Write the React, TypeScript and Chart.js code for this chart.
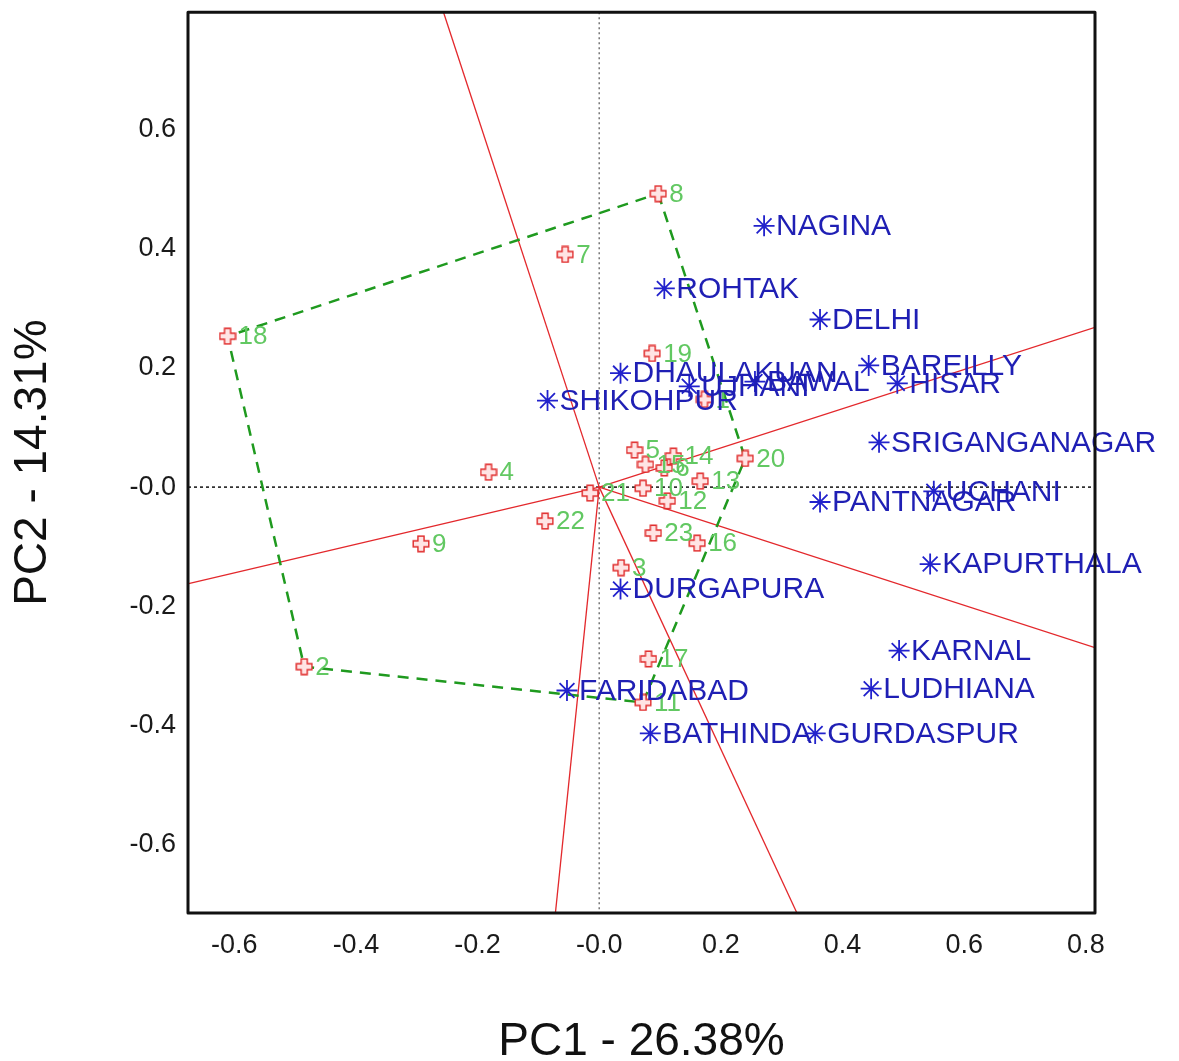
import React, { useEffect, useRef } from "react";
import { Chart, registerables } from "chart.js";

Chart.register(...registerables);

// ---- Data ----
const genotypeIds = ["1","2","3","4","5","6","7","8","9","10","11","12","13","14","15","16","17","18","19","20","21","22","23"];
const genotypePC1 = [0.173,-0.485,0.036,-0.182,0.058,0.107,-0.056,0.097,-0.293,0.072,0.072,0.112,0.166,0.122,0.076,0.161,0.081,-0.611,0.087,0.240,-0.015,-0.089,0.089];
const genotypePC2 = [0.147,-0.301,-0.135,0.025,0.062,0.032,0.390,0.492,-0.095,-0.002,-0.361,-0.023,0.010,0.052,0.038,-0.094,-0.288,0.253,0.224,0.048,-0.010,-0.057,-0.077];

const envNames = ["NAGINA","ROHTAK","DELHI","BAREILLY","HISAR","DHAULAKUAN","UJHANI","BAWAL","SHIKOHPUR","SRIGANGANAGAR","PANTNAGAR","UCHANI","KAPURTHALA","DURGAPURA","KARNAL","FARIDABAD","LUDHIANA","BATHINDA","GURDASPUR"];
const envPC1 = [0.271,0.107,0.363,0.443,0.490,0.035,0.148,0.256,-0.085,0.460,0.363,0.550,0.544,0.035,0.493,-0.053,0.447,0.084,0.355];
const envPC2 = [0.438,0.333,0.281,0.204,0.174,0.191,0.169,0.177,0.145,0.075,-0.025,-0.007,-0.129,-0.171,-0.274,-0.341,-0.338,-0.413,-0.413];

const hullOrder = ["8","20","11","2","18","8"];

const rayEndPC1 = [-0.256, 0.815, 0.815, 0.325, -0.072, -0.675];
const rayEndPC2 = [0.796, 0.268, -0.269, -0.714, -0.714, -0.162];

const xTicks = [-0.6,-0.4,-0.2,0,0.2,0.4,0.6,0.8];
const yTicks = [-0.6,-0.4,-0.2,0,0.2,0.4,0.6];
const xTitle = "PC1 - 26.38%";
const yTitle = "PC2 - 14.31%";

const FONT = "'Liberation Sans', Arial, sans-serif";

function makePlus(size: number, stroke: string, fill: string) {
  const c = document.createElement("canvas");
  c.width = size; c.height = size;
  const g = c.getContext("2d")!;
  const m = size / 2;
  const t = size * 0.17;
  const a = size / 2 - 1.2;
  g.beginPath();
  g.moveTo(m - t, m - a); g.lineTo(m + t, m - a); g.lineTo(m + t, m - t);
  g.lineTo(m + a, m - t); g.lineTo(m + a, m + t); g.lineTo(m + t, m + t);
  g.lineTo(m + t, m + a); g.lineTo(m - t, m + a); g.lineTo(m - t, m + t);
  g.lineTo(m - a, m + t); g.lineTo(m - a, m - t); g.lineTo(m - t, m - t);
  g.closePath();
  g.fillStyle = fill; g.fill();
  g.lineWidth = 1.4; g.strokeStyle = stroke; g.stroke();
  return c;
}

const labelPlugin = {
  id: "pointLabels",
  afterDatasetsDraw(chart: any) {
    const ctx = chart.ctx;
    const order = chart.data.datasets.map((_: any, i: number) => i).reverse();
    order.forEach((i: number) => {
      const ds = chart.data.datasets[i];
      if (!ds.pointLabels) return;
      const meta = chart.getDatasetMeta(i);
      ctx.save();
      ctx.font = ds.labelFont;
      ctx.fillStyle = ds.labelColor;
      ctx.textBaseline = "middle";
      ctx.textAlign = "left";
      meta.data.forEach((el: any, j: number) => {
        ctx.fillText(ds.pointLabels[j], el.x + ds.labelOffset, el.y + 1);
      });
      ctx.restore();
    });
  },
};

const framePlugin = {
  id: "frame",
  beforeDatasetsDraw(chart: any) {
    const { ctx, chartArea: a, scales } = chart;
    const x0 = scales.x.getPixelForValue(0);
    const y0 = scales.y.getPixelForValue(0);
    ctx.save();
    ctx.lineWidth = 1.5;
    ctx.strokeStyle = "#777";
    ctx.setLineDash([2, 3]);
    ctx.beginPath(); ctx.moveTo(x0, a.top); ctx.lineTo(x0, a.bottom); ctx.stroke();
    ctx.strokeStyle = "#111";
    ctx.setLineDash([3, 3]);
    ctx.beginPath(); ctx.moveTo(a.left, y0); ctx.lineTo(a.right, y0); ctx.stroke();
    ctx.restore();
  },
  afterDraw(chart: any) {
    const { ctx, chartArea: a } = chart;
    ctx.save();
    ctx.lineWidth = 3;
    ctx.strokeStyle = "#111";
    ctx.lineJoin = "round";
    ctx.strokeRect(a.left, a.top, a.right - a.left, a.bottom - a.top);
    ctx.restore();
  },
};

export default function App() {
  const ref = useRef<HTMLCanvasElement>(null);
  useEffect(() => {
    document.body.style.margin = "0";
    const plus = makePlus(18, "#e02a2a", "#ffe4e4");
    const datasets: any[] = [];
    datasets.push({
      label: "Environments",
      data: envNames.map((_, i) => ({ x: envPC1[i], y: envPC2[i] })),
      pointStyle: "star",
      pointRadius: 10.5,
      borderColor: "#2222cc",
      backgroundColor: "#2222cc",
      borderWidth: 1.8,
      showLine: false,
      order: 0,
      pointLabels: envNames,
      labelFont: `30px ${FONT}`,
      labelColor: "#1f1fb4",
      labelOffset: 12,
    });
    datasets.push({
      label: "Genotypes",
      data: genotypeIds.map((_, i) => ({ x: genotypePC1[i], y: genotypePC2[i] })),
      pointStyle: plus,
      pointRadius: 9,
      showLine: false,
      order: 1,
      pointLabels: genotypeIds,
      labelFont: `26px ${FONT}`,
      labelColor: "#62c862",
      labelOffset: 11,
    });
    datasets.push({
      label: "Hull",
      data: hullOrder.map((id) => {
        const k = genotypeIds.indexOf(id);
        return { x: genotypePC1[k], y: genotypePC2[k] };
      }),
      showLine: true,
      pointRadius: 0,
      borderColor: "#1f9a1f",
      borderWidth: 2.5,
      borderDash: [11, 8],
      order: 2,
    });
    rayEndPC1.forEach((ex, i) => {
      datasets.push({
        label: "Ray" + i,
        data: [{ x: 0, y: 0 }, { x: ex, y: rayEndPC2[i] }],
        showLine: true,
        pointRadius: 0,
        borderColor: "#e3282c",
        borderWidth: 1.3,
        order: 3,
      });
    });

    const chart = new Chart(ref.current!, {
      type: "scatter",
      data: { datasets },
      plugins: [framePlugin, labelPlugin],
      options: {
        animation: false,
        responsive: false,
        devicePixelRatio: 1,
        layout: { padding: { top: 10, right: 84, left: 0, bottom: 0 } },
        plugins: { legend: { display: false }, tooltip: { enabled: false } },
        scales: {
          x: {
            type: "linear",
            min: -0.676,
            max: 0.815,
            grid: { display: false, drawTicks: false },
            border: { display: false },
            afterBuildTicks: (s: any) => { s.ticks = xTicks.map((v) => ({ value: v })); },
            afterFit: (s: any) => { s.height = 148; s.paddingLeft = 0; s.paddingRight = 0; },
            ticks: {
              padding: 16,
              color: "#1a1a1a",
              font: { family: FONT, size: 27 },
              callback: (v: any) => (Number(v) === 0 ? "-0.0" : Number(v).toFixed(1)),
            },
            title: {
              display: true,
              text: xTitle,
              color: "#111",
              font: { family: FONT, size: 46, lineHeight: 0.92 },
              padding: { top: 0, bottom: -2 },
            },
          },
          y: {
            type: "linear",
            min: -0.714,
            max: 0.796,
            grid: { display: false, drawTicks: false },
            border: { display: false },
            afterBuildTicks: (s: any) => { s.ticks = yTicks.map((v) => ({ value: v })); },
            afterFit: (s: any) => { s.width = 188; s.paddingTop = 0; s.paddingBottom = 0; },
            ticks: {
              padding: 12,
              color: "#1a1a1a",
              font: { family: FONT, size: 27 },
              callback: (v: any) => (Number(v) === 0 ? "-0.0" : Number(v).toFixed(1)),
            },
            title: {
              display: true,
              text: yTitle,
              color: "#111",
              font: { family: FONT, size: 46, lineHeight: 0.92 },
              padding: { top: 12, bottom: 0 },
            },
          },
        },
      } as any,
    });
    return () => chart.destroy();
  }, []);
  return (
    <div style={{ width: 1179, height: 1061, background: "#fff" }}>
      <canvas ref={ref} width={1179} height={1061} style={{ display: "block" }} />
    </div>
  );
}
